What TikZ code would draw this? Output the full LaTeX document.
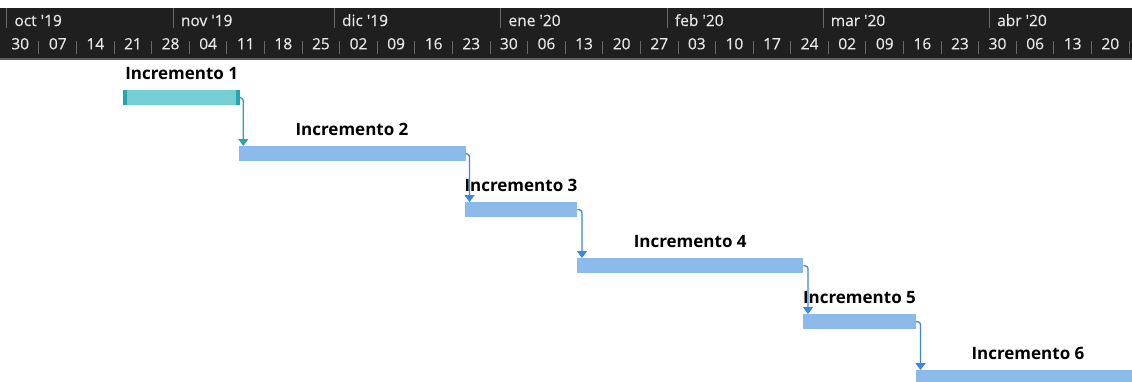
\documentclass[tikz,border=0pt]{standalone}
\usepackage{fontspec}
\setmainfont{Open Sans}
\newfontfamily\hdrfont{Open Sans}[FakeBold=0.35]
\usetikzlibrary{arrows.meta}

\definecolor{hdrbg}{HTML}{1F1F1F}
\definecolor{hdrtext}{HTML}{E8E8E8}
\definecolor{hdrsep}{HTML}{6A6A6A}
\definecolor{hdrline}{HTML}{5E5E5E}
\definecolor{tealfill}{HTML}{76CED5}
\definecolor{tealdark}{HTML}{28A4AE}
\definecolor{bluefill}{HTML}{8BBAEB}
\definecolor{bluelink}{HTML}{3A88DA}

\tikzset{
  hdrtxt/.style={text=hdrtext, inner sep=0pt, font=\hdrfont\fontsize{15.5}{17}\selectfont},
  taskbar/.style={fill=bluefill, draw=none, minimum height=15pt, inner sep=0pt, anchor=north west},
  tasklabel/.style={anchor=base, inner sep=0pt, text=black, font=\bfseries\fontsize{17}{19}\selectfont},
  link/.style={draw=bluelink, line width=1.3pt, rounded corners=3pt,
    -{Triangle[width=10pt,length=7pt]}},
  tealLink/.style={link, draw=tealdark},
}

\begin{document}
\begin{tikzpicture}[x=1pt,y=-1pt]
  \useasboundingbox (0,0) rectangle (1132,381);
  \clip (0,0) rectangle (1132,381);
  \fill[white] (0,0) rectangle (1132,381);

  % timeline header
  \fill[hdrbg] (0,8) rectangle (1132,57.5);
  \fill[hdrline] (0,57.5) rectangle (1132,59.5);

  % month row: day offsets counted from 30 Sep 2019
  \foreach \d/\m [count=\i] in {1/oct, 32/nov, 62/dic}{
    \pgfmathsetmacro{\xs}{1.4+5.37*\d}
    \draw[hdrsep, line width=1pt] (\xs,8) -- (\xs,28);
    \node[hdrtxt, anchor=base west] (m\i) at (\xs+7.5,26) {\m\ \textquotesingle19};
  }
  \foreach \d/\m [count=\i] in {93/ene, 124/feb, 153/mar, 184/abr}{
    \pgfmathsetmacro{\xs}{1.4+5.37*\d}
    \draw[hdrsep, line width=1pt] (\xs,8) -- (\xs,28);
    \node[hdrtxt, anchor=base west] (n\i) at (\xs+7.5,26) {\m\ \textquotesingle20};
  }

  % week row
  \foreach \w [count=\k from 0] in {30,07,14,21,28,04,11,18,25,02,09,16,23,30,06,13,20,27,03,10,17,24,02,09,16,23,30,06,13,20}{
    \pgfmathsetmacro{\xc}{1.4+37.59*\k+18.8}
    \pgfmathsetmacro{\xr}{1.4+37.59*(\k+1)}
    \node[hdrtxt, anchor=base] (w\k) at (\xc,49.3) {\w};
    \draw[hdrsep, line width=1pt] (\xr,41) -- (\xr,54);
  }

  % task bars
  \node[taskbar, fill=tealfill, minimum width=117pt] (b1) at (123,90) {};
  \fill[tealdark] (b1.north west) rectangle ([xshift=4pt]b1.south west);
  \fill[tealdark] ([xshift=-4pt]b1.north east) rectangle (b1.south east);
  \node[taskbar, minimum width=227pt]   (b2) at (238.3,146) {};
  \node[taskbar, minimum width=112.5pt] (b3) at (464.5,202) {};
  \node[taskbar, minimum width=226pt]   (b4) at (577,258) {};
  \node[taskbar, minimum width=112.5pt] (b5) at (803,314) {};
  \node[taskbar, minimum width=224.5pt] (b6) at (915.5,370) {};

  % task names
  \foreach \i in {1,...,6}{
    \node[tasklabel] (t\i) at ([yshift=11pt]b\i.north) {Incremento \i};
  }

  % finish-to-start links
  \draw[tealLink] (b1.east) -| ([xshift=5pt]b2.north west);
  \draw[link] (b2.east) -| ([xshift=5pt]b3.north west);
  \draw[link] (b3.east) -| ([xshift=5pt]b4.north west);
  \draw[link] (b4.east) -| ([xshift=5pt]b5.north west);
  \draw[link] (b5.east) -| ([xshift=5pt]b6.north west);
\end{tikzpicture}
\end{document}
